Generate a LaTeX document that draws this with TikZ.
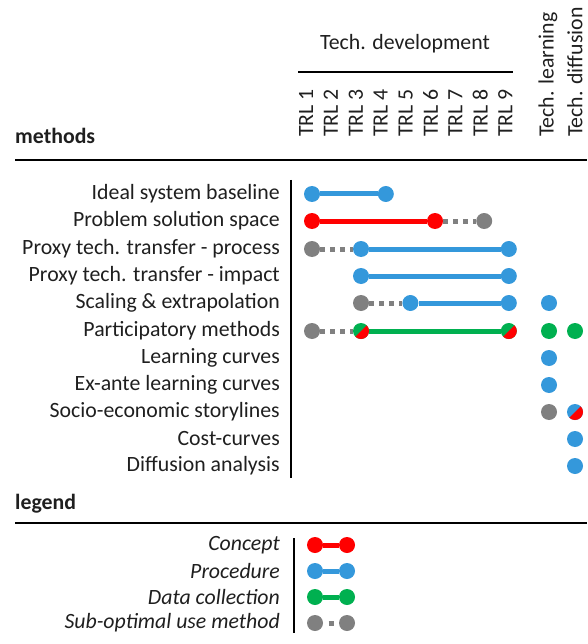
\documentclass[tikz,border=0pt]{standalone}
\usepackage{fontspec}
\setmainfont{Carlito}
\definecolor{cred}{RGB}{255,0,0}
\definecolor{cblue}{RGB}{52,152,219}
\definecolor{cgreen}{RGB}{0,176,80}
\definecolor{cgray}{RGB}{128,128,128}
\begin{document}
\begin{tikzpicture}[x=1pt,y=-1pt,
  txt/.style={font=\fontsize{21.8}{24}\selectfont, inner sep=0pt, text=black!88},
  lbl/.style={txt, anchor=east},
  vlbl/.style={txt, rotate=90, anchor=west},
  dot/.style={circle, inner sep=0pt, minimum size=16pt, draw=none, fill=#1},
  conn/.style={line width=5pt, #1},
  sub/.style={line width=5pt, cgray, dash pattern=on 5pt off 5pt},
  rule/.style={line width=1.6pt, black}]
\useasboundingbox (0,0) rectangle (587,644);
% header
\node[txt] (hdr) at (405,44) {Tech. development};
\coordinate (hl) at (298,72); \coordinate (hr) at (513,72);
\draw[rule] (hl) -- (hr);
\foreach \i in {1,...,9}{
  \node[vlbl] (t\i) at ({306+24.9*(\i-1)},137) {TRL \i};
}
\node[vlbl] (tl) at (548,137) {Tech. learning};
\node[vlbl] (td) at (575,137) {Tech. diffusion};
% methods
\node[txt, font=\fontsize{21.8}{24}\selectfont\bfseries, anchor=base west] (meth) at (15,144) {methods};
\coordinate (ml) at (15,160); \coordinate (mr) at (587,160);
\draw[rule] (ml) -- (mr);
% row labels
\node[lbl] (l1) at (280,194) {Ideal system baseline};
\node[lbl] (l2) at (280,221) {Problem solution space};
\node[lbl] (l3) at (280,249) {Proxy tech. transfer - process};
\node[lbl] (l4) at (280,276) {Proxy tech. transfer - impact};
\node[lbl] (l5) at (280,303) {Scaling \& extrapolation};
\node[lbl] (l6) at (280,331) {Participatory methods};
\node[lbl] (l7) at (280,358) {Learning curves};
\node[lbl] (l8) at (280,385) {Ex-ante learning curves};
\node[lbl] (l9) at (280,412) {Socio-economic storylines};
\node[lbl] (l10) at (280,439) {Cost-curves};
\node[lbl] (l11) at (280,466) {Diffusion analysis};
\coordinate (vt) at (291,180); \coordinate (vb) at (291,478);
\draw[rule] (vt) -- (vb);
% row 1
\node[dot=cblue] (a1) at (312,194) {};
\node[dot=cblue] (a2) at (385.8,194) {};
\draw[conn=cblue] (a1) -- (a2);
% row 2
\node[dot=cred] (b1) at (312,221) {};
\node[dot=cred] (b2) at (435,221) {};
\node[dot=cgray] (b3) at (484.2,221) {};
\draw[conn=cred] (b1) -- (b2);
\draw[sub] (b2) -- (b3);
% row 3
\node[dot=cgray] (c1) at (312,249) {};
\node[dot=cblue] (c2) at (361,249) {};
\node[dot=cblue] (c3) at (508.8,249) {};
\draw[sub] (c1) -- (c2);
\draw[conn=cblue] (c2) -- (c3);
% row 4
\node[dot=cblue] (d1) at (361,276) {};
\node[dot=cblue] (d2) at (508.8,276) {};
\draw[conn=cblue] (d1) -- (d2);
% row 5
\node[dot=cgray] (e1) at (361,303) {};
\node[dot=cblue] (e2) at (410.4,303) {};
\node[dot=cblue] (e3) at (508.8,303) {};
\node[dot=cblue] (e4) at (549,303) {};
\draw[sub] (e1) -- (e2);
\draw[conn=cblue] (e2) -- (e3);
% row 6
\node[dot=cgray] (f1) at (312,331) {};
\node[dot=cgreen] (f2) at (361,331) {};
\node[dot=cgreen] (f3) at (508.8,331) {};
\node[dot=cgreen] (f4) at (549,331) {};
\node[dot=cgreen] (f5) at (575,331) {};
\draw[sub] (f1) -- (f2);
\draw[conn=cgreen] (f2) -- (f3);
\fill[cred] ([shift={(45:8pt)}]f2.center) arc[start angle=45, end angle=-135, radius=8pt] -- cycle;
\fill[cred] ([shift={(45:8pt)}]f3.center) arc[start angle=45, end angle=-135, radius=8pt] -- cycle;
% rows 7-11
\node[dot=cblue] (g1) at (549,358) {};
\node[dot=cblue] (h1) at (549,385) {};
\node[dot=cgray] (i1) at (549,412) {};
\node[dot=cblue] (i2) at (575,412) {};
\fill[cred] ([shift={(45:8pt)}]i2.center) arc[start angle=45, end angle=-135, radius=8pt] -- cycle;
\node[dot=cblue] (j1) at (575,439) {};
\node[dot=cblue] (k1) at (575,466) {};
% legend
\node[txt, font=\fontsize{21.8}{24}\selectfont\bfseries, anchor=base west] (leg) at (15,509) {legend};
\coordinate (ll) at (15,523); \coordinate (lr) at (587,523);
\draw[rule] (ll) -- (lr);
\node[lbl, font=\fontsize{21.8}{24}\selectfont\itshape] (p1) at (280,545) {Concept};
\node[lbl, font=\fontsize{21.8}{24}\selectfont\itshape] (p2) at (280,571) {Procedure};
\node[lbl, font=\fontsize{21.8}{24}\selectfont\itshape] (p3) at (280,597) {Data collection};
\node[lbl, font=\fontsize{21.8}{24}\selectfont\itshape] (p4) at (280,623) {Sub-optimal use method};
\coordinate (lvt) at (294,538); \coordinate (lvb) at (294,633);
\draw[rule] (lvt) -- (lvb);
\node[dot=cred] (q1a) at (315,545) {}; \node[dot=cred] (q1b) at (347,545) {};
\draw[conn=cred] (q1a) -- (q1b);
\node[dot=cblue] (q2a) at (315,571) {}; \node[dot=cblue] (q2b) at (347,571) {};
\draw[conn=cblue] (q2a) -- (q2b);
\node[dot=cgreen] (q3a) at (315,597) {}; \node[dot=cgreen] (q3b) at (347,597) {};
\draw[conn=cgreen] (q3a) -- (q3b);
\node[dot=cgray] (q4a) at (315,623) {}; \node[dot=cgray] (q4b) at (347,623) {};
\draw[line width=5pt, cgray, dash pattern=on 0pt off 5.5pt on 5pt off 30pt] (q4a) -- (q4b);
\end{tikzpicture}
\end{document}
